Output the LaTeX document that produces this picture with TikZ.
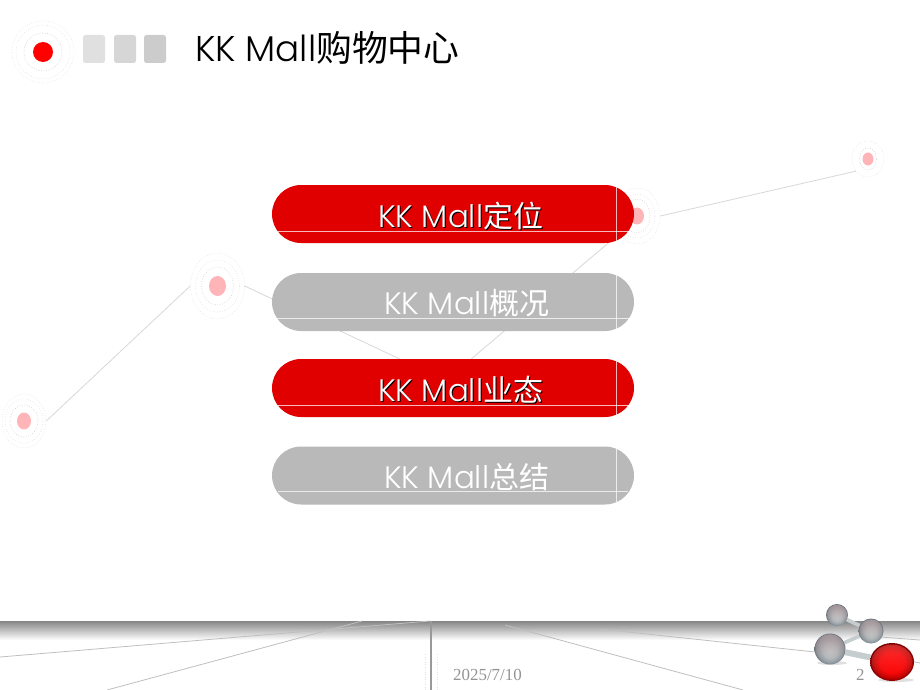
\documentclass[tikz,border=0pt]{standalone}
\usepackage{fontspec}
\usetikzlibrary{shapes.geometric,shapes.misc,fadings}
\newfontfamily\latinface{Poppins}[UprightFont=* Light]
\newfontfamily\cjkface{Noto Sans CJK SC}
\setmainfont{Liberation Serif}
\definecolor{btnred}{HTML}{E00000}
\definecolor{btngray}{HTML}{B9B9B9}
\definecolor{pinkdot}{HTML}{FFB4B8}
\definecolor{ringin}{HTML}{CCCCCC}
\definecolor{ringout}{HTML}{E6E0E6}
\definecolor{linegray}{HTML}{DAD5DA}
\definecolor{footgray}{HTML}{858585}
\definecolor{ballmid}{HTML}{C6CDCE}
\definecolor{ballmid2}{HTML}{B6BFC1}
\definecolor{ballout}{HTML}{8C999F}
\definecolor{ballrim}{HTML}{66737B}
\definecolor{ballcap}{HTML}{B8A0A2}
\pgfdeclareradialshading{grayball}{\pgfpoint{0bp}{-4bp}}{color(0bp)=(ballmid); color(11bp)=(ballmid2); color(20bp)=(ballout); color(25bp)=(ballrim); color(50bp)=(ballrim)}
\pgfdeclareradialshading{redball}{\pgfpoint{0bp}{-1bp}}{color(0bp)=(red); color(14bp)=(red!96!black); color(21bp)=(red!72!black); color(25bp)=(red!48!black); color(50bp)=(red!48!black)}
\pgfdeclarelayer{footer}
\pgfdeclarelayer{sticks}
\pgfsetlayers{footer,sticks,main}
\tikzset{
  ring/.style={ellipse,draw=ringin,line width=.6pt,dash pattern=on .7pt off 1.8pt,inner sep=0pt,fill=none},
  ringpale/.style={ring,draw=ringout},
  dot/.style={ellipse,fill=pinkdot,inner sep=0pt},
  link/.style={draw=linegray,line width=.8pt},
  footline/.style={draw=black!25,line width=.8pt},
  pill/.style={rounded rectangle,inner sep=0pt,minimum width=362pt,minimum height=58pt},
  sheen/.style={draw=white,line width=.9pt,opacity=.72},
  tile/.style={rectangle,rounded corners=2.5pt,inner sep=0pt,minimum width=22pt,minimum height=28pt},
  btntext/.style={anchor=base west,inner sep=0pt,text=white},
  ball/.style={circle,inner sep=0pt,shading=grayball},
  stick/.style={line width=3.6pt,draw=ballmid},
  small/.style={anchor=base west,inner sep=0pt,text=gray!85!white,font=\fontsize{16.9}{16}\selectfont},
}
\newcommand{\lbl}[1]{{\fontsize{31}{30}\selectfont\latinface KK Mall\cjkface\fontsize{30}{30}\selectfont #1}}
\begin{document}
\begin{tikzpicture}[x=1pt,y=-1pt]
\useasboundingbox (0,0) rectangle (920,690);

% logo
\node[ring,minimum size=38pt] (lr1) at (43,52) {};
\node[ringpale,minimum size=54pt] (lr2) at (43,52) {};
\node[ringpale,minimum size=62pt] (lr3) at (43,52) {};
\node[circle,fill=red,inner sep=0pt,minimum size=20pt] (ldot) at (43,52) {};
\node[tile,fill=black!12] (t1) at (94,49) {};
\node[tile,fill=black!16] (t2) at (125,49) {};
\node[tile,fill=black!20] (t3) at (155,49) {};
\node[anchor=base west,inner sep=0pt] (title) at (195,61.5) {\fontsize{35.8}{35}\selectfont\latinface KK Mall\cjkface\fontsize{35.8}{35}\selectfont 购物中心};

% network rings
\node[dot,minimum width=11pt,minimum height=13pt] (Ad) at (868,159) {};
\node[ring,minimum width=17pt,minimum height=22pt] (Ar) at (868,159) {};
\node[ringpale,minimum width=32pt,minimum height=36pt] (A) at (868,159) {};

\node[dot,minimum width=14pt,minimum height=17pt] (Bd) at (637,216) {};
\node[ring,minimum width=26pt,minimum height=34pt] (Br) at (637,216) {};
\node[ringpale,minimum width=36pt,minimum height=44pt] (Bm) at (637,216) {};
\node[ringpale,minimum width=46pt,minimum height=56pt] (B) at (637,216) {};

\node[dot,minimum width=17pt,minimum height=20pt] (Cd) at (217.5,286) {};
\node[ring,minimum width=32pt,minimum height=38pt] (Cr) at (217.5,286) {};
\node[ringpale,minimum width=44pt,minimum height=52pt] (Cm) at (217.5,286) {};
\node[ringpale,minimum width=54pt,minimum height=66pt] (C) at (217.5,286) {};

\node[dot,minimum width=14pt,minimum height=17pt] (Dd) at (24,421) {};
\node[ring,minimum width=28pt,minimum height=32pt] (Dr) at (24,421) {};
\node[ringpale,minimum width=38pt,minimum height=44pt] (Dm) at (24,421) {};
\node[ringpale,minimum width=44pt,minimum height=54pt] (D) at (24,421) {};

\coordinate (J) at (445.6,380.6);
\draw[link] (A.225) -- (B.east);
\draw[link] (D.east) -- (C.west);
\draw[link] (C.east) -- (J);
\draw[link] (B.225) -- (J);

% buttons
\node[pill,fill=btnred] (b1) at (453,214) {};
\node[pill,fill=btngray] (b2) at (453,302) {};
\node[pill,fill=btnred] (b3) at (453,388) {};
\node[pill,fill=btngray] (b4) at (453,475.5) {};

\draw[sheen] (277.5,231) -- (628.5,231);
\draw[sheen] (616,187.2) -- (616,240.8);
\draw[sheen] (277,318) -- (629,318);
\draw[sheen] (616,275.2) -- (616,328.8);
\draw[sheen] (277.5,405) -- (628.5,405);
\draw[sheen] (616,361.2) -- (616,414.8);
\draw[sheen] (278,491) -- (628,491);
\draw[sheen] (616,448.7) -- (616,502.3);

\node[btntext,text=black] (s1) at (379,228) {\lbl{定位}};
\node[btntext] (l1) at (378,227) {\lbl{定位}};
\node[btntext] (l2) at (384,314) {\lbl{概况}};
\node[btntext,text=black] (s3) at (379,402) {\lbl{业态}};
\node[btntext] (l3) at (378,401) {\lbl{业态}};
\node[btntext] (l4) at (384,488) {\lbl{总结}};

% footer
\begin{pgfonlayer}{footer}
\coordinate (f1a) at (0,657); \coordinate (f1b) at (430,621);
\coordinate (f2a) at (107,690); \coordinate (f2b) at (362,621);
\coordinate (f3a) at (505,625); \coordinate (f3b) at (743,690);
\coordinate (f4a) at (600,629); \coordinate (f4b) at (815,652);
\coordinate (f5a) at (880,637); \coordinate (f5b) at (920,640);
\coordinate (f6a) at (905,660); \coordinate (f6b) at (920,663);
\coordinate (f7a) at (431,621); \coordinate (f7b) at (431,690);
\coordinate (f8a) at (425.5,654); \coordinate (f8b) at (425.5,690);
\coordinate (f9a) at (437,654); \coordinate (f9b) at (437,690);
\shade[top color=footgray,middle color=black!15,bottom color=white] (0,621) rectangle (920,640);
\draw[footline] (f1a) -- (f1b);
\draw[footline] (f2a) -- (f2b);
\draw[footline] (f3a) -- (f3b);
\draw[footline] (f4a) -- (f4b);
\draw[footline] (f5a) -- (f5b);
\draw[footline] (f6a) -- (f6b);
\draw[draw=gray!80!white,line width=1.2pt] (f7a) -- (f7b);
\draw[ringpale] (f8a) -- (f8b);
\draw[ringpale] (f9a) -- (f9b);
\end{pgfonlayer}

\node[small] (date) at (453,680) {2025/7/10};
\node[small] (page) at (856,680) {2};

% molecule
\node[ellipse,fill=black!12,inner sep=0pt,minimum width=30pt,minimum height=4pt] (sh3) at (832,663) {};
\node[ellipse,fill=black!12,inner sep=0pt,minimum width=36pt,minimum height=4pt] (shr) at (896,680) {};
\node[ball,minimum size=22pt] (m1) at (837,615) {};
\node[ball,minimum size=25pt] (m2) at (871,631) {};
\node[ball,minimum size=31pt] (m3) at (830,649) {};
\node[ellipse,inner sep=0pt,minimum width=44pt,minimum height=38pt,shading=redball] (m4) at (892,662) {};
\fill[ballcap,opacity=.75,path fading=south] (m1.center) circle (10.2pt);
\fill[ballcap,opacity=.75,path fading=south] (m2.center) circle (11.7pt);
\fill[ballcap,opacity=.75,path fading=south] (m3.center) circle (14.7pt);
\fill[red!60!white,opacity=.45,path fading=south] (m4.center) ellipse (20.5pt and 17.5pt);
\begin{pgfonlayer}{sticks}
\draw[stick] (m1) -- (m2);
\draw[stick] (m2) -- (m3);
\draw[stick,line width=6pt] (m3) -- (m4);
\end{pgfonlayer}
\end{tikzpicture}
\end{document}
